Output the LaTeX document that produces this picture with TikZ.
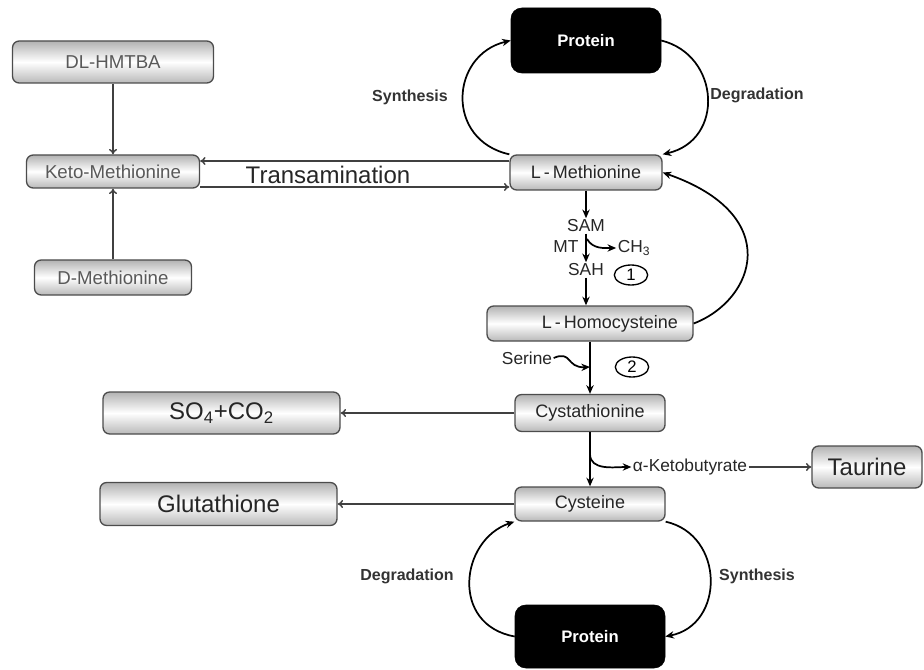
\documentclass[tikz,border=0pt]{standalone}
\usepackage{fontspec}
\setmainfont{Liberation Sans}
\usetikzlibrary{arrows.meta,shapes.geometric}

\begin{document}
\begin{tikzpicture}[x=0.75pt,y=-0.75pt,
    box/.style={draw=black!70, line width=1pt, rounded corners=5pt, top color=gray!60, bottom color=gray!55, middle color=white, inner sep=0pt, text=black!85, font=\fontsize{13.5}{15}\selectfont},
    lbox/.style={box, text=black!65, font=\fontsize{14}{16}\selectfont},
    bbox/.style={box, text=black!85, font=\fontsize{18}{20}\selectfont},
    prot/.style={draw=black, fill=black, rounded corners=8pt, inner sep=0pt, text=white, font=\bfseries\fontsize{12.5}{14}\selectfont},
    lbl/.style={text=black!80, font=\bfseries\fontsize{12}{14}\selectfont},
    sm/.style={text=black!85, inner sep=1pt, font=\fontsize{13}{15}\selectfont},
    num/.style={ellipse, draw, line width=1pt, minimum width=25pt, minimum height=15pt, inner sep=0pt, font=\fontsize{12.5}{14}\selectfont},
    carr/.style={-{Stealth[length=6.5pt,width=5.5pt]}, line width=1.3pt},
    oarr/.style={-{To[length=4pt,width=6pt]}, line width=1.1pt, draw=black!75}]
    \useasboundingbox (0,0) rectangle (924,670);
    \def\x{586}

    % Left column
    \node[lbox, minimum width=150.75pt, minimum height=31.5pt] (hmtba) at (113,62) {DL-HMTBA};
    \node[lbox, minimum width=129.75pt, minimum height=24.75pt] (keto) at (113,171.5) {Keto-Methionine};
    \node[lbox, minimum width=117.75pt, minimum height=26.25pt] (dmet) at (113,277.5) {D-Methionine};
    \draw[oarr] (hmtba) -- (keto);
    \draw[oarr] (dmet) -- (keto);

    % Protein cycle (top)
    \node[prot, minimum width=112.5pt, minimum height=48.75pt] (protT) at (\x,40.5) {Protein};
    \node[box, minimum width=114pt, minimum height=26.25pt] (lmet) at (\x,172.5) {L\,-\,Methionine};
    \draw[carr] (lmet.north west) .. controls (445,140) and (450,55) .. (protT.west);
    \draw[carr] (protT.east) .. controls (720,55) and (725,140) .. (lmet.north east);
    \node[lbl] (synT) at (410,97) {Synthesis};
    \node[lbl] (degT) at (757,95) {Degradation};

    % Transamination
    \path (lmet.west) ++(0,-11.5) coordinate (tu);
    \path (lmet.west) ++(0,14.5) coordinate (tl);
    \draw[oarr] (tu) -- (tu -| keto.east);
    \draw[oarr] (tl -| keto.east) -- (tl);
    \node[text=black!85, font=\fontsize{18}{20}\selectfont] (trans) at (328,175) {Transamination};

    % Methylation
    \node[sm] (sam) at (\x,226) {SAM};
    \node[sm] (mt) at (566,247) {MT};
    \node[sm] (ch3) at (634,248) {CH\textsubscript{3}};
    \node[sm] (sah) at (\x,270) {SAH};
    \node[num] (n1) at (631,275) {1};
    \coordinate (mtb) at (587,239);
    \draw[carr] (lmet) -- (sam);
    \draw[carr] (sam) -- (sah);
    \draw[carr] (mtb) to[out=-60,in=180] (ch3.west);

    \node[box, minimum width=154.5pt, minimum height=26.25pt] (hcy) at (590,323.5) {\hspace*{2.2em}L\,-\,Homocysteine};
    \draw[carr] (sah) -- (sah |- hcy.north);
    \draw[carr] (hcy.east) .. controls (755,300) and (785,215) .. (lmet.east);

    % Transsulfuration
    \node[sm] (ser) at (527,358) {Serine};
    \node[num] (n2) at (632,367) {2};
    \node[box, minimum width=112.5pt, minimum height=27.75pt] (cysta) at (590,413) {Cystathionine};
    \draw[carr] (hcy) -- (cysta);
    \draw[carr] (ser.east) .. controls (572,350) and (566,368) .. (hcy.south |- n2);

    \node[bbox, minimum width=177.75pt, minimum height=31.5pt] (so4) at (221.5,413) {SO\textsubscript{4}+CO\textsubscript{2}};
    \draw[oarr] (cysta) -- (so4);

    \node[box, minimum width=112.5pt, minimum height=25.5pt] (cys) at (590,504) {Cysteine};
    \node[sm, font=\fontsize{13}{15}\selectfont] (aket) at (690,467) {α-Ketobutyrate};
    \node[bbox, minimum width=82.5pt, minimum height=31.5pt] (taur) at (867,467) {Taurine};
    \coordinate (kb) at (590,454);
    \draw[carr] (cysta) -- (cys);
    \draw[carr] (kb) to[out=-90,in=180] (aket.west);
    \draw[oarr] (aket) -- (taur);

    \node[bbox, minimum width=177.75pt, minimum height=32.25pt] (glu) at (218.5,504) {Glutathione};
    \draw[oarr] (cys) -- (glu);

    % Protein cycle (bottom)
    \node[prot, minimum width=112.5pt, minimum height=47.25pt] (protB) at (590,636.5) {Protein};
    \draw[carr] (protB.west) .. controls (450,625) and (460,540) .. (cys.south west);
    \draw[carr] (cys.south east) .. controls (725,535) and (725,625) .. (protB.east);
    \node[lbl] (degB) at (407,576) {Degradation};
    \node[lbl] (synB) at (757,576) {Synthesis};
\end{tikzpicture}
\end{document}
